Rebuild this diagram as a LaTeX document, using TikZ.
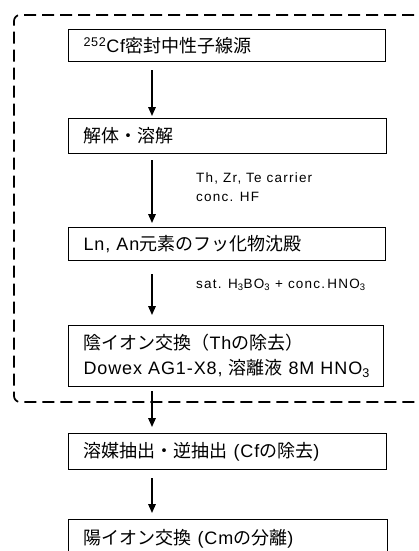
\documentclass[tikz,border=0pt]{standalone}
\usepackage{fontspec}
\setmainfont{Liberation Sans}[LetterSpace=5]
\newfontfamily\jpfont{Noto Sans CJK JP}
\newfontfamily\lblfont{Liberation Sans}[LetterSpace=9]
\newcommand\J[1]{{\jpfont #1}}
\usetikzlibrary{arrows.meta}
\tikzset{
  stepbox/.style={draw, line width=1.1pt, inner xsep=15pt, inner ysep=0pt,
    anchor=north west, align=left, font=\fontsize{18}{25}\selectfont},
  arr/.style={line width=1.6pt, -{Triangle[length=9pt,width=7.5pt]}},
  frame/.style={line width=1.7pt, dash pattern=on 12pt off 6pt, rounded corners=6pt},
  lbl/.style={anchor=west, align=left, inner sep=0pt, font=\lblfont\fontsize{13.5}{19}\selectfont}
}
\begin{document}
\begin{tikzpicture}[x=1pt,y=-1pt]
\useasboundingbox (0,0) rectangle (418,551);
\clip (0,0) rectangle (418,551);
\fill[white] (0,0) rectangle (418,551);
% dashed frame
\draw[frame] (432,15) -- (14,15) -- (14,402) -- (432,402);
% boxes
\node[stepbox, text width=287pt, minimum height=32pt] (b1) at (68,29)
  {\textsuperscript{252}Cf\J{密封中性子線源}};
\node[stepbox, text width=288pt, minimum height=35pt] (b2) at (68,118)
  {\J{解体・溶解}};
\node[stepbox, text width=287pt, minimum height=33pt] (b3) at (68,227)
  {Ln, An\J{元素のフッ化物沈殿}};
\node[stepbox, text width=285pt, minimum height=61pt] (b4) at (68,325)
  {\mbox{\J{陰イオン交換（}Th\J{の除去）}}\\\mbox{Dowex AG1-X8, \J{溶離液} 8M HNO\textsubscript{3}}};
\node[stepbox, text width=288pt, minimum height=36pt] (b5) at (68,433)
  {\J{溶媒抽出・逆抽出} (Cf\J{の除去})};
\node[stepbox, text width=289pt, minimum height=38pt] (b6) at (68,519)
  {\J{陽イオン交換} (Cm\J{の分離})};
% labels
\node[lbl] (l1) at (196,187) {Th, Zr, Te carrier\\conc. HF};
\node[lbl] (l2) at (196,285) {sat. H\textsubscript{3}BO\textsubscript{3} + conc.\,HNO\textsubscript{3}};
% arrows
\draw[arr] ([xshift=84pt,yshift=-8pt]b1.south west) -- ([xshift=84pt,yshift=2pt]b2.north west);
\draw[arr] ([xshift=84pt,yshift=-6pt]b2.south west) -- ([xshift=84pt,yshift=4pt]b3.north west);
\draw[arr] ([xshift=84pt,yshift=-13pt]b3.south west) -- ([xshift=84pt,yshift=10pt]b4.north west);
\draw[arr] ([xshift=84pt,yshift=-4pt]b4.south west) -- ([xshift=84pt,yshift=6pt]b5.north west);
\draw[arr] ([xshift=84pt,yshift=-8pt]b5.south west) -- ([xshift=84pt,yshift=6pt]b6.north west);
\end{tikzpicture}
\end{document}
